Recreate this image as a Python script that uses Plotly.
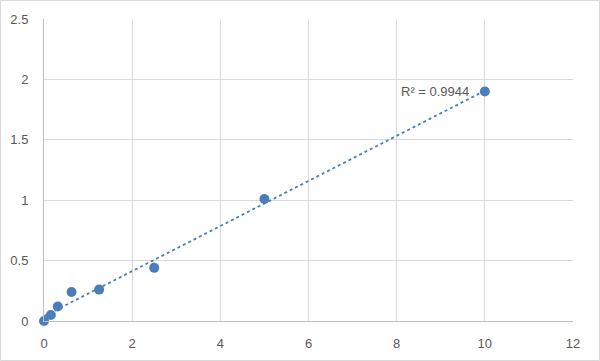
import numpy as np
import plotly.graph_objects as go

conc = [0, 0.156, 0.3125, 0.625, 1.25, 2.5, 5, 10]
od = [0.0, 0.05, 0.12, 0.24, 0.26, 0.44, 1.01, 1.90]
x_ticks = [0, 2, 4, 6, 8, 10, 12]
y_ticks = [0, 0.5, 1, 1.5, 2, 2.5]
r2_label = "R² = 0.9944"

slope, intercept = np.polyfit(conc, od, 1)
fit_x = [min(conc), max(conc)]
fit_y = [slope * v + intercept for v in fit_x]

W, H = 600, 361
ml, mr, mt, mb = 44, 27, 19, 40
pw, ph = W - ml - mr, H - mt - mb

color = "#4a7ebb"
fig = go.Figure()
fig.add_trace(go.Scatter(x=fit_x, y=fit_y, mode="lines",
                         line=dict(color=color, width=1.8, dash="dot"),
                         hoverinfo="skip"))
fig.add_trace(go.Scatter(x=conc, y=od, mode="markers", cliponaxis=False,
                         marker=dict(color=color, size=10)))
fig.add_annotation(x=8.86, y=1.90, text=r2_label, showarrow=False,
                   font=dict(size=13, color="#595959"))
fig.add_shape(type="rect", xref="paper", yref="paper",
              x0=-(ml - 0.5) / pw, x1=1 + (mr - 0.5) / pw,
              y0=-(mb - 0.5) / ph, y1=1 + (mt - 0.5) / ph,
              line=dict(color="#d9d9d9", width=1))
fig.update_layout(
    width=W, height=H, margin=dict(l=ml, r=mr, t=mt, b=mb, autoexpand=False),
    plot_bgcolor="white", paper_bgcolor="white", showlegend=False,
    font=dict(family="Liberation Sans, Arial, sans-serif", size=13, color="#595959"),
    xaxis=dict(range=[0, 12], tickvals=x_ticks, showgrid=True, gridcolor="#d9d9d9",
               zeroline=False, showline=True, linecolor="#bfbfbf", ticks="",
               ticklabelstandoff=10, automargin=False, fixedrange=True),
    yaxis=dict(range=[0, 2.5], tickvals=y_ticks, showgrid=True, gridcolor="#d9d9d9",
               zeroline=False, showline=True, linecolor="#bfbfbf", ticks="",
               ticklabelstandoff=12, automargin=False, fixedrange=True),
)
fig.write_html("out.html")
